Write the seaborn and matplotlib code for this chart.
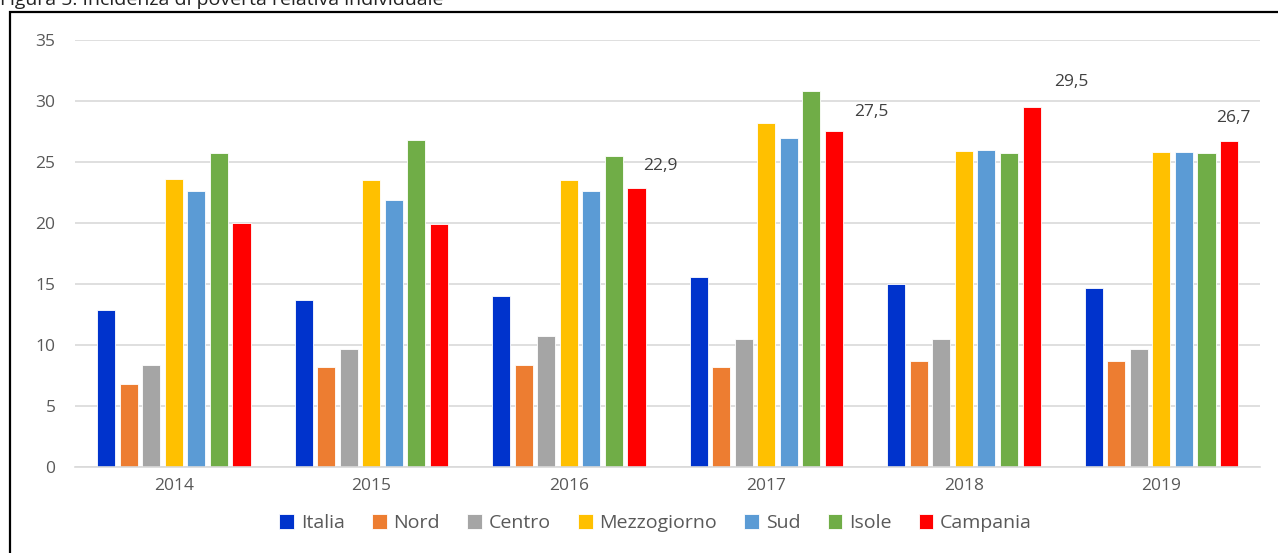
import matplotlib
matplotlib.use("Agg")
import matplotlib.pyplot as plt
import seaborn as sns
import pandas as pd
from matplotlib.patches import Rectangle

# Incidenza di povertà relativa individuale (%), per area
anni = ["2014", "2015", "2016", "2017", "2018", "2019"]
aree = ["Italia", "Nord", "Centro", "Mezzogiorno", "Sud", "Isole", "Campania"]
italia = [12.9, 13.7, 14.0, 15.6, 15.0, 14.7]
nord = [6.8, 8.2, 8.4, 8.2, 8.7, 8.7]
centro = [8.4, 9.7, 10.7, 10.5, 10.5, 9.7]
mezzogiorno = [23.6, 23.5, 23.5, 28.2, 25.9, 25.8]
sud = [22.6, 21.9, 22.6, 27.0, 26.0, 25.8]
isole = [25.7, 26.8, 25.5, 30.8, 25.7, 25.7]
campania = [20.0, 19.9, 22.9, 27.5, 29.5, 26.7]
# years whose Campania value carries a label
anni_etichettati = ["2016", "2017", "2018", "2019"]

colori = ["#0033CC", "#ED7D31", "#A5A5A5", "#FFC000", "#5B9BD5", "#70AD47", "#FF0000"]

serie = [italia, nord, centro, mezzogiorno, sud, isole, campania]
df = pd.DataFrame(
    [(a, area, v) for area, vals in zip(aree, serie) for a, v in zip(anni, vals)],
    columns=["anno", "area", "valore"],
)

sns.set_theme(style="white")
plt.rcParams["font.family"] = ["Open Sans", "DejaVu Sans"]

fig = plt.figure(figsize=(12.78, 5.53), dpi=100)
ax = fig.add_axes([0.0587, 0.1555, 0.9273, 0.7722])

sns.barplot(
    data=df, x="anno", y="valore", hue="area", order=anni, hue_order=aree,
    palette=colori, width=0.8, gap=0.2, saturation=1, ax=ax,
    edgecolor="white", linewidth=0.6,
)

ax.set_xlim(-0.5, len(anni) - 0.5)
ax.set_ylim(0, 35)
ax.set_yticks(range(0, 36, 5))
ax.yaxis.grid(True, color="#D9D9D9", linewidth=1.2)
ax.set_axisbelow(True)
for s in ["top", "right", "left"]:
    ax.spines[s].set_visible(False)
ax.spines["bottom"].set_color("#D9D9D9")
ax.spines["bottom"].set_linewidth(1.2)
ax.tick_params(axis="both", length=0, labelsize=12.5, labelcolor="#595959")
ax.tick_params(axis="y", pad=14)
ax.tick_params(axis="x", pad=8)
ax.set_xlabel("")
ax.set_ylabel("")

# Labels on the Campania bars (offsets in pixels from the bar top)
offsets = {"2016": (24, 22), "2017": (37, 19), "2018": (40, 25), "2019": (4, 23)}
n = len(aree)
step = 0.8 / n
for anno in anni_etichettati:
    i = anni.index(anno)
    v = campania[i]
    x = i - 0.4 + step * (n - 0.5)
    dx, dy = offsets[anno]
    ax.annotate(
        f"{v:.1f}".replace(".", ","), xy=(x, v), xytext=(dx, dy),
        textcoords="offset pixels", ha="center", va="center",
        fontsize=12.5, color="#404040",
    )

leg = ax.legend(
    loc="upper center", bbox_to_anchor=(0.49, -0.07), ncol=n, frameon=False,
    fontsize=14, handlelength=0.75, handleheight=0.75, handletextpad=0.35,
    columnspacing=1.4, labelcolor="#595959",
)

# Outer frame of the figure panel
fig.patches.append(Rectangle((10 / 1278, -0.1), 1.2, 1 - 12 / 553 + 0.1,
                             transform=fig.transFigure, fill=False,
                             edgecolor="black", linewidth=1.6))

fig.text(0.0, 1 - 5 / 553, "Figura 5: Incidenza di povertà relativa individuale",
         ha="left", va="baseline", fontsize=14, color="#222222")

fig.savefig("out.png", dpi=100)
